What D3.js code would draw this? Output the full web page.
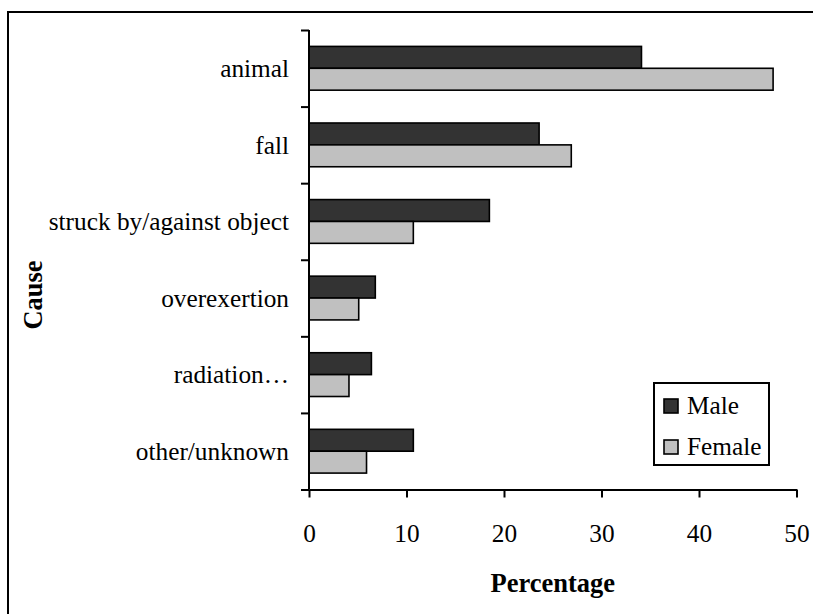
<!DOCTYPE html>
<html>
<head>
<meta charset="utf-8">
<script src="https://cdn.jsdelivr.net/npm/d3@7"></script>
<style>
  html, body { margin: 0; padding: 0; background: #fff; }
  svg { display: block; font-family: "Liberation Serif", "Times New Roman", serif; }
</style>
</head>
<body>
<div id="chart"></div>
<script>
// injury causes by sex, percent of cases
var causes = ["animal", "fall", "struck by/against object", "overexertion", "radiation\u2026", "other/unknown"];
var series = ["Male", "Female"];
var male = [34.1, 23.6, 18.5, 6.8, 6.4, 10.7];
var female = [47.6, 26.9, 10.7, 5.1, 4.1, 5.9];
var xTicks = [0, 10, 20, 30, 40, 50];

(function () {
  var W = 813, H = 614;
  var m = { top: 30, left: 309, right: 813 - 796.5, bottom: 614 - 489.5 };
  var fills = { Male: "#333333", Female: "#c0c0c0" };
  var serif = "Liberation Serif, Times New Roman, serif";
  var fs = "25.3px", fsBold = "26.5px";

  var svg = d3.select("#chart").append("svg")
    .attr("width", W).attr("height", H);

  // chart-area border, runs off the right and bottom edges
  svg.append("rect")
    .attr("x", 8).attr("y", 12).attr("width", 830).attr("height", 640)
    .attr("fill", "none").attr("stroke", "#000").attr("stroke-width", 2);

  var x = d3.scaleLinear().domain([0, 50]).range([m.left, W - m.right]);
  var y = d3.scaleBand().domain(causes).range([m.top, H - m.bottom])
    .paddingInner(0.4286).paddingOuter(0.2143);
  var ySub = d3.scaleBand().domain(series).range([0, y.bandwidth()]);
  var yEdge = d3.scaleLinear().domain([0, causes.length]).range([m.top, H - m.bottom]);

  var rows = causes.map(function (c, i) {
    return { cause: c, vals: [{ s: "Male", v: male[i] }, { s: "Female", v: female[i] }] };
  });

  var grp = svg.append("g").selectAll("g").data(rows).join("g")
    .attr("transform", function (d) { return "translate(0," + y(d.cause) + ")"; });
  grp.selectAll("rect").data(function (d) { return d.vals; }).join("rect")
    .attr("x", x(0))
    .attr("y", function (d) { return ySub(d.s); })
    .attr("width", function (d) { return x(d.v) - x(0); })
    .attr("height", ySub.bandwidth())
    .attr("fill", function (d) { return fills[d.s]; })
    .attr("stroke", "#000").attr("stroke-width", 1.6);

  // category axis: ticks between categories
  var yAxis = svg.append("g").attr("transform", "translate(" + m.left + ",0)")
    .call(d3.axisLeft(yEdge).tickValues(d3.range(causes.length + 1))
      .tickSize(8).tickFormat(""));
  yAxis.select(".domain").remove();
  yAxis.selectAll("line").attr("stroke", "#000").attr("stroke-width", 2);
  svg.append("line")
    .attr("x1", m.left).attr("x2", m.left)
    .attr("y1", m.top).attr("y2", H - m.bottom)
    .attr("stroke", "#000").attr("stroke-width", 2);

  svg.append("g").selectAll("text").data(causes).join("text")
    .attr("x", m.left - 20)
    .attr("y", function (d) { return y(d) + y.bandwidth() / 2; })
    .attr("dy", "0.35em")
    .attr("text-anchor", "end")
    .attr("font-family", serif)
    .attr("font-size", fs).attr("fill", "#000")
    .text(function (d) { return d; });

  var xAxis = svg.append("g").attr("transform", "translate(0," + (H - m.bottom) + ")")
    .call(d3.axisBottom(x).tickValues(xTicks).tickSize(8).tickSizeOuter(0).tickPadding(27));
  xAxis.select(".domain").attr("stroke", "#000").attr("stroke-width", 2);
  xAxis.selectAll("line").attr("stroke", "#000").attr("stroke-width", 2);
  xAxis.selectAll("text").attr("font-size", fs).attr("font-family", serif).attr("fill", "#000");

  svg.append("text")
    .attr("x", (x(0) + x(50)) / 2).attr("y", 592)
    .attr("text-anchor", "middle").attr("font-family", serif)
    .attr("font-weight", "bold").attr("font-size", fsBold)
    .text("Percentage");

  svg.append("text")
    .attr("transform", "translate(42,295) rotate(-90)")
    .attr("text-anchor", "middle").attr("font-family", serif)
    .attr("font-weight", "bold").attr("font-size", fsBold)
    .text("Cause");

  // legend
  var lg = svg.append("g").attr("transform", "translate(654,383)");
  lg.append("rect").attr("width", 115).attr("height", 82)
    .attr("fill", "#fff").attr("stroke", "#000").attr("stroke-width", 2);
  var li = lg.selectAll("g").data(series).join("g")
    .attr("transform", function (d, i) { return "translate(10," + (16 + i * 41) + ")"; });
  li.append("rect").attr("width", 14).attr("height", 14)
    .attr("fill", function (d) { return fills[d]; })
    .attr("stroke", "#000").attr("stroke-width", 1.6);
  li.append("text").attr("x", 23).attr("y", 15)
    .attr("font-family", serif)
    .attr("font-size", fs).text(function (d) { return d; });
})();
</script>
</body>
</html>
